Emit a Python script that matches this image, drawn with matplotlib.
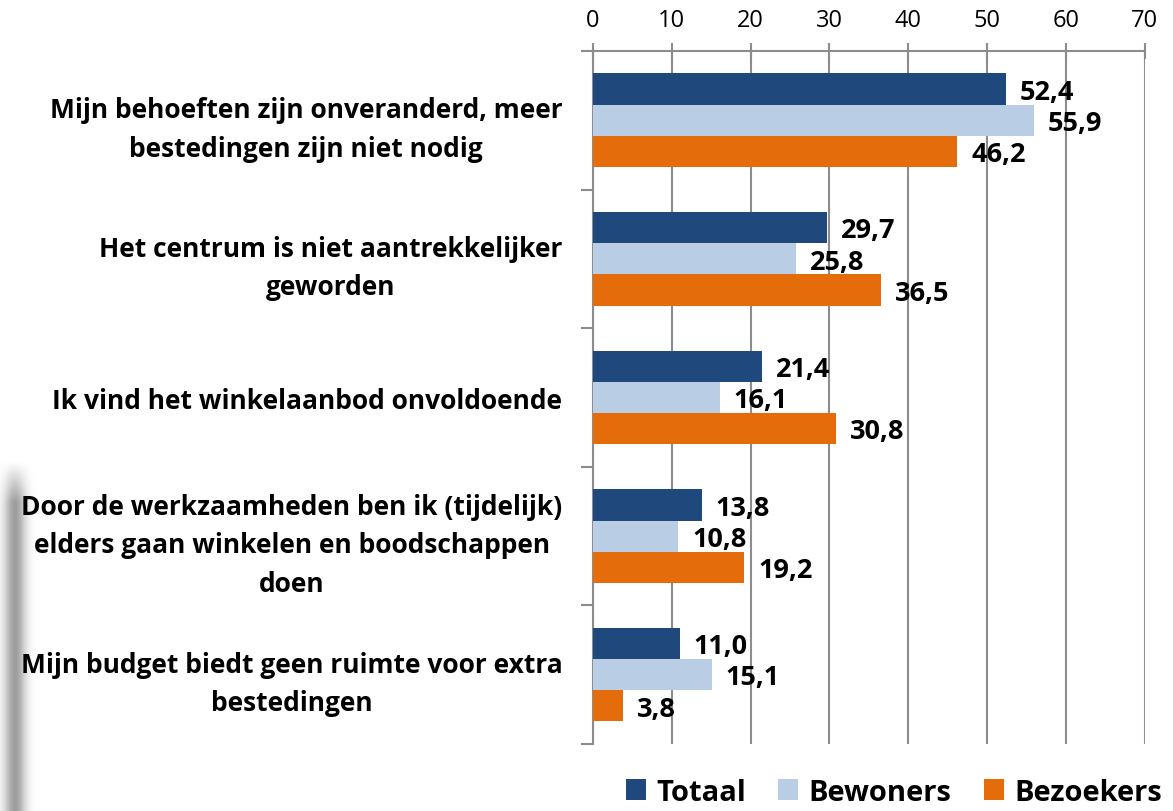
import numpy as np
import matplotlib.pyplot as plt

# data
categories = ['Mijn behoeften zijn onveranderd, meer\nbestedingen zijn niet nodig',
              'Het centrum is niet aantrekkelijker\ngeworden',
              'Ik vind het winkelaanbod onvoldoende',
              'Door de werkzaamheden ben ik (tijdelijk)\nelders gaan winkelen en boodschappen\ndoen',
              'Mijn budget biedt geen ruimte voor extra\nbestedingen']
totaal = [52.4, 29.7, 21.4, 13.8, 11.0]
bewoners = [55.9, 25.8, 16.1, 10.8, 15.1]
bezoekers = [46.2, 36.5, 30.8, 19.2, 3.8]
series = ['Totaal', 'Bewoners', 'Bezoekers']
colors = ['#1F497D', '#B9CDE5', '#E46C0A']

plt.rcParams['font.family'] = ['Open Sans', 'DejaVu Sans']

fig = plt.figure(figsize=(11.73, 8.12), dpi=100)
fig.patch.set_facecolor('#fdfdfd')

# soft shadow on the left edge
bg = fig.add_axes([0, 0, 1, 1], zorder=-10)
x = np.linspace(0, 1, 600)
shade = 1 - 0.38 * np.exp(-((x - 0.012) / 0.009) ** 2)
y = np.linspace(0, 1, 400)
fade = np.clip((0.43 - y) / 0.05, 0, 1)[:, None]
grad = 1 - fade * (1 - shade[None, :])
bg.imshow(grad, cmap='gray', vmin=0, vmax=1, extent=[0, 1, 0, 1], aspect='auto',
          origin='lower', interpolation='bilinear')
bg.axis('off')

ax = fig.add_axes([0.5055, 0.0825, 0.976 - 0.5055, 0.936 - 0.0825])
ax.set_facecolor('none')

n = len(categories)
pos = np.arange(n)
h = 0.225
for i, (vals, col) in enumerate(zip([totaal, bewoners, bezoekers], colors)):
    yy = pos + (i - 1) * h
    ax.barh(yy, vals, height=h, color=col, label=series[i], zorder=3)
    for v, yv in zip(vals, yy):
        ax.annotate(f'{v:.1f}'.replace('.', ','), (v, yv), xytext=(10, -2),
                    textcoords='offset points', va='center', ha='left',
                    fontsize=19.5, fontweight='bold', zorder=4)

ax.set_xlim(0, 70)
ax.set_ylim(n - 0.5, -0.5)
ax.xaxis.tick_top()
ax.set_xticks(range(0, 71, 10))
ax.tick_params(axis='x', direction='inout', length=12, width=1.5, color='#8c8c8c',
               labelsize=17, pad=8)
ax.grid(axis='x', color='#8c8c8c', linewidth=1.5, zorder=0)

ax.set_yticks(pos)
ax.set_yticklabels(categories, fontsize=19, fontweight='bold', multialignment='center',
                   linespacing=1.55)
ax.tick_params(axis='y', length=0, pad=22)
ax.set_yticks(np.arange(-0.5, n, 1), minor=True)
ax.tick_params(axis='y', which='minor', direction='out', length=9, width=1.5, color='#8c8c8c')

for s in ['right', 'bottom']:
    ax.spines[s].set_visible(False)
for s in ['top', 'left']:
    ax.spines[s].set_color('#8c8c8c')
    ax.spines[s].set_linewidth(1.5)

fig.legend(loc='center', bbox_to_anchor=(0.762, 0.023), ncol=3, frameon=False,
           prop={'size': 21, 'weight': 'bold'}, handlelength=0.7, handleheight=0.7,
           handletextpad=0.35, columnspacing=1.1, borderpad=0)

fig.savefig('out.png', dpi=100, facecolor=fig.get_facecolor())
